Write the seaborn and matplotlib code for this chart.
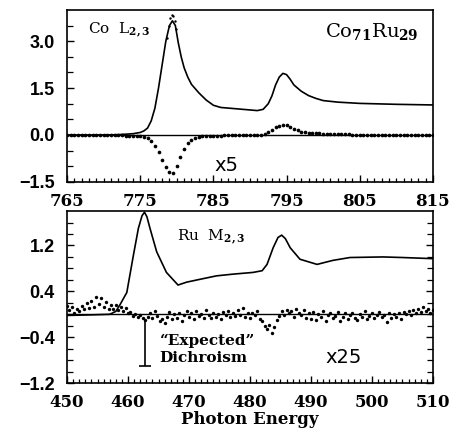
import numpy as np
import pandas as pd
import seaborn as sns
import matplotlib.pyplot as plt

# Co L2,3 edge: summed absorption (solid line)
co_energy = [765, 770, 772, 774, 775, 775.5, 776, 776.5, 777, 777.5, 778, 778.5,
             779, 779.4, 779.8, 780.2, 780.6, 781, 781.5, 782, 783, 784, 785, 786,
             788, 790, 791, 791.8, 792.5, 793, 793.5, 794, 794.5, 795, 795.5, 796,
             797, 798, 799, 800, 802, 805, 810, 815]
co_xas = [0.0, 0.0, 0.01, 0.04, 0.08, 0.13, 0.22, 0.45, 0.85, 1.5, 2.25, 3.0,
          3.5, 3.65, 3.5, 2.95, 2.5, 2.15, 1.85, 1.62, 1.35, 1.12, 0.95, 0.88,
          0.84, 0.8, 0.78, 0.82, 1.0, 1.25, 1.6, 1.85, 1.97, 1.93, 1.78, 1.6,
          1.4, 1.26, 1.17, 1.1, 1.05, 1.01, 0.98, 0.96]

# dotted top of the L3 peak
co_peak_energy = [778.6, 778.9, 779.1, 779.3, 779.5, 779.7, 779.9]
co_peak = [3.1, 3.5, 3.75, 3.83, 3.8, 3.65, 3.4]

# Co dichroism (x5), 0.5 eV steps
co_mcd_energy = np.round(np.arange(765, 815.01, 0.5), 2)
co_mcd = [0.0, 0.0, 0.01, 0.0, -0.01, 0.0, 0.0, 0.01, 0.0, -0.01,
          0.0, 0.0, -0.01, 0.0, -0.01, -0.01, -0.02, -0.02, -0.03, -0.03,
          -0.04, -0.06, -0.1, -0.2, -0.35, -0.55, -0.8, -1.02, -1.18, -1.2,
          -1.0, -0.72, -0.45, -0.27, -0.15, -0.09, -0.06, -0.04, -0.03,
          -0.03, -0.02, -0.02, -0.02, -0.01, -0.01, -0.01, -0.01, 0.0, 0.0,
          0.0, 0.0, 0.0, 0.01, 0.01,
          0.03, 0.08, 0.16, 0.24, 0.3, 0.33, 0.31, 0.26, 0.2, 0.15, 0.11,
          0.09, 0.07, 0.06, 0.05, 0.05, 0.04,
          0.04, 0.03, 0.03, 0.03, 0.02, 0.02, 0.02, 0.01, 0.01, 0.01, 0.01,
          0.0, 0.0, 0.0, 0.0, 0.0, 0.0, 0.0, 0.0, 0.0, 0.0,
          0.0, 0.0, 0.0, 0.0, 0.0, 0.0, 0.0, 0.0, 0.0]

# Ru M2,3 edge absorption
ru_energy = [450, 454, 457, 458, 458.7, 459.8, 460.9, 461.7, 462.3, 462.7, 463.1,
             463.6, 464.7, 466.3, 468.2, 469.6, 471.8, 474.5, 477.2, 480.5, 482.0,
             482.8, 483.8, 484.6, 485.2, 485.8, 486.6, 488.2, 491, 493.6, 496.4,
             501.8, 505, 510]
ru_xas = [-0.02, -0.01, 0.0, 0.05, 0.17, 0.38, 1.04, 1.5, 1.72, 1.78, 1.7,
          1.5, 1.09, 0.73, 0.51, 0.56, 0.61, 0.67, 0.7, 0.73, 0.76,
          0.87, 1.16, 1.34, 1.38, 1.32, 1.16, 0.96, 0.87, 0.94, 0.99,
          1.0, 0.99, 0.97]

# Ru dichroism (x25), 0.4 eV steps
ru_mcd_energy = np.round(np.arange(450, 510.01, 0.4), 2)
ru_mcd = [0.15, 0.08, 0.12, 0.03, 0.1, 0.06, 0.14, 0.09, 0.2, 0.11,
          0.24, 0.13, 0.3, 0.18, 0.28, 0.12, 0.22, 0.09, 0.17, 0.1,
          0.16, 0.08, 0.13, 0.05, 0.11, 0.02, 0.04, -0.03, 0.01, -0.05,
          -0.02, -0.07, -0.1, -0.04, 0.02, -0.06, 0.05, -0.03, -0.12, -0.08,
          -0.15, -0.05, 0.04, -0.09, 0.0, -0.06, 0.03, -0.11, -0.02, 0.05,
          -0.04, 0.02, -0.08, 0.06, -0.03, 0.01, -0.06, 0.08, -0.02, -0.07,
          0.03, -0.04, 0.0, -0.09, 0.04, -0.02, 0.06, -0.05, 0.02, -0.03,
          0.07, -0.01, 0.11, -0.04, 0.03, -0.06, 0.02, -0.02, 0.05, -0.08,
          -0.12, -0.2, -0.26, -0.18, -0.33, -0.22, -0.1, -0.03, 0.05, -0.02,
          0.08, 0.02, 0.06, -0.04, 0.1, 0.03, -0.02, 0.07, -0.06, 0.02,
          -0.08, 0.04, -0.1, 0.01, -0.05, 0.05, -0.11, -0.02, 0.03, -0.07,
          -0.03, 0.04, -0.12, -0.05, 0.02, -0.08, -0.01, 0.03, -0.06, -0.1,
          0.0, -0.04, 0.05, -0.09, -0.03, 0.02, -0.07, -0.01, 0.04, -0.05,
          -0.02, -0.13, 0.03, -0.06, 0.01, -0.04, 0.02, -0.08, 0.04, 0.0,
          0.05, -0.02, 0.07, 0.03, 0.09, 0.04, 0.12, 0.06, 0.1, 0.03,
          0.08]

# "expected" dichroism bar
bar_energy = 462.8
bar_top = -0.12
bar_bottom = -0.9

sns.set_style("ticks")
plt.rcParams['font.family'] = ['DejaVu Sans']
plt.rcParams['mathtext.fontset'] = 'dejavuserif'
plt.rcParams['axes.linewidth'] = 1.2
for key in ['text.color', 'axes.labelcolor', 'xtick.color', 'ytick.color', 'axes.edgecolor']:
    plt.rcParams[key] = 'black'

fig = plt.figure(figsize=(4.5, 4.29), dpi=100)
ax1 = fig.add_axes([0.149, 0.576, 0.813, 0.401])
ax2 = fig.add_axes([0.149, 0.107, 0.813, 0.401])

# --- top panel (Co) ---
ax1.axhline(0, color='black', lw=1.0, zorder=1)
sns.lineplot(x=co_energy, y=co_xas, ax=ax1, color='black', lw=1.2)
sns.scatterplot(x=co_peak_energy, y=co_peak, ax=ax1, color='black', s=3, linewidth=0)
sns.scatterplot(x=co_mcd_energy, y=co_mcd, ax=ax1, color='black', s=7, linewidth=0)
ax1.set_xlim(765, 815)
ax1.set_ylim(-1.5, 4.0)
ax1.set_xticks([765, 775, 785, 795, 805, 815])
ax1.set_xticks(np.arange(766, 815, 1), minor=True)
ax1.set_yticks([-1.5, 0.0, 1.5, 3.0])
ax1.set_yticks([-1.0, -0.5, 0.5, 1.0, 2.0, 2.5, 3.5], minor=True)
ax1.tick_params(axis='both', which='both', direction='in', top=False, right=False)
ax1.text(767.9, 3.35, r'Co  L$_{\mathbf{2,3}}$', family='DejaVu Serif', fontsize=11, va='center')
ax1.text(813, 3.3, r'Co$_{\mathbf{71}}$Ru$_{\mathbf{29}}$', family='DejaVu Serif',
         fontsize=14, va='center', ha='right')
ax1.text(785.2, -0.96, 'x5', fontsize=14, va='center')

# --- bottom panel (Ru) ---
ax2.axhline(0, color='black', lw=1.0, zorder=1)
sns.lineplot(x=ru_energy, y=ru_xas, ax=ax2, color='black', lw=1.2)
sns.scatterplot(x=ru_mcd_energy, y=ru_mcd, ax=ax2, color='black', s=6, linewidth=0)
ax2.vlines(bar_energy, bar_bottom, bar_top, color='black', lw=1.2)
ax2.hlines(bar_bottom, bar_energy - 1.0, bar_energy + 1.0, color='black', lw=1.2)
ax2.set_xlim(450, 510)
ax2.set_ylim(-1.2, 1.8)
ax2.set_xticks([450, 460, 470, 480, 490, 500, 510])
ax2.set_xticks(np.arange(451, 510, 1), minor=True)
ax2.set_yticks([-1.2, -0.4, 0.4, 1.2])
ax2.set_yticks(np.round(np.arange(-1.0, 1.75, 0.2), 2), minor=True)
ax2.tick_params(axis='both', which='both', direction='in', top=False, right=True)
ax2.text(468.0, 1.36, r'Ru  M$_{\mathbf{2,3}}$', family='DejaVu Serif', fontsize=11, va='center')
ax2.text(465.2, -0.47, '\u201cExpected\u201d', family='DejaVu Serif', fontweight='bold',
         fontsize=11, va='center')
ax2.text(465.2, -0.76, 'Dichroism', family='DejaVu Serif', fontweight='bold',
         fontsize=11, va='center')
ax2.text(492.3, -0.76, 'x25', fontsize=14, va='center')
ax2.set_xlabel('Photon Energy', family='DejaVu Serif', fontweight='bold', fontsize=12, labelpad=0)

for ax in (ax1, ax2):
    ax.set_ylabel('')
    ax.tick_params(which='major', length=5, width=1.0, labelsize=12, pad=8)
    ax.tick_params(which='minor', length=3, width=0.9, color='black')
    ax.tick_params(axis='y', which='minor', length=4.5)
    ax.tick_params(axis='y', pad=9, labelsize=13)
    for lab in ax.get_xticklabels():
        lab.set_family('DejaVu Serif')
        lab.set_fontweight('bold')
    for lab in ax.get_yticklabels():
        lab.set_family('Liberation Sans')
        lab.set_fontweight('bold')

plt.savefig('out.png', dpi=100)
